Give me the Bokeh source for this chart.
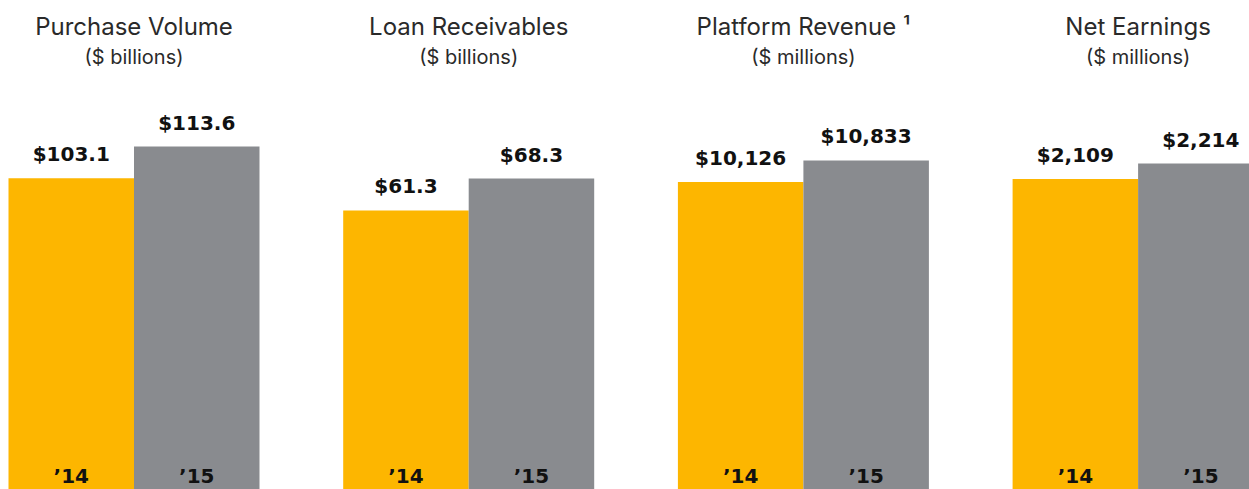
from bokeh.plotting import figure
from bokeh.models import Range1d, ColumnDataSource
from bokeh.core.properties import value
from bokeh.embed import file_html
from bokeh.resources import INLINE

# ---- data ----
titles = ["Purchase Volume", "Loan Receivables", "Platform Revenue \u00b9", "Net Earnings"]
subtitles = ["($ billions)", "($ billions)", "($ millions)", "($ millions)"]
years = ["\u201914", "\u201915"]
values_14 = [103.1, 61.3, 10126, 2109]
values_15 = [113.6, 68.3, 10833, 2214]
labels_14 = ["$103.1", "$61.3", "$10,126", "$2,109"]
labels_15 = ["$113.6", "$68.3", "$10,833", "$2,214"]

# ---- layout constants ----
W, H = 1249, 489
LEFT = 8
PERIOD = 334.7
BAR_W = 125.5
# per-panel vertical scale (value at top of frame)
y_ends = [161.96, 107.4, 16101, 3321]

YELLOW = "#FDB600"
GRAY = "#898B8F"

p = figure(width=W, height=H, output_backend="svg", toolbar_location=None,
           x_range=Range1d(0, W), y_range=Range1d(H, 0), min_border=0)
p.axis.visible = False
p.grid.visible = False
p.outline_line_color = None
p.background_fill_color = "white"
p.border_fill_color = "white"

for i in range(4):
    rn = f"panel{i}"
    p.extra_y_ranges[rn] = Range1d(0, y_ends[i])
    x0 = LEFT + i * PERIOD + BAR_W / 2
    xs = [x0, x0 + BAR_W]
    src = ColumnDataSource(dict(
        x=xs,
        top=[values_14[i], values_15[i]],
        color=[YELLOW, GRAY],
        label=[labels_14[i], labels_15[i]],
        year=years,
        zero=[0, 0],
    ))
    p.vbar(x="x", top="top", bottom=0, width=BAR_W, fill_color="color",
           line_color=None, source=src, y_range_name=rn)
    p.text(x="x", y="top", text="label", source=src, y_range_name=rn,
           text_align="center", text_baseline="bottom", y_offset=-12,
           text_font=value("DejaVu Sans"), text_font_style="bold",
           text_font_size="20px", text_color="#111111")
    p.text(x="x", y="zero", text="year", source=src, y_range_name=rn,
           text_align="center", text_baseline="bottom", y_offset=-2,
           text_font=value("DejaVu Sans"), text_font_style="bold",
           text_font_size="20px", text_color="#111111")
    cx = LEFT + i * PERIOD + BAR_W
    tsrc = ColumnDataSource(dict(x=[cx], y=[40], t=[titles[i]]))
    p.text(x="x", y="y", text="t", source=tsrc, text_align="center",
           text_baseline="bottom", text_font=value("Inter"),
           text_font_size="24px", text_color="#2a2a2a")
    ssrc = ColumnDataSource(dict(x=[cx], y=[68], t=[subtitles[i]]))
    p.text(x="x", y="y", text="t", source=ssrc, text_align="center",
           text_baseline="bottom", text_font=value("Inter"),
           text_font_size="20px", text_color="#2a2a2a")

open("out.html", "w").write(file_html(p, INLINE))
